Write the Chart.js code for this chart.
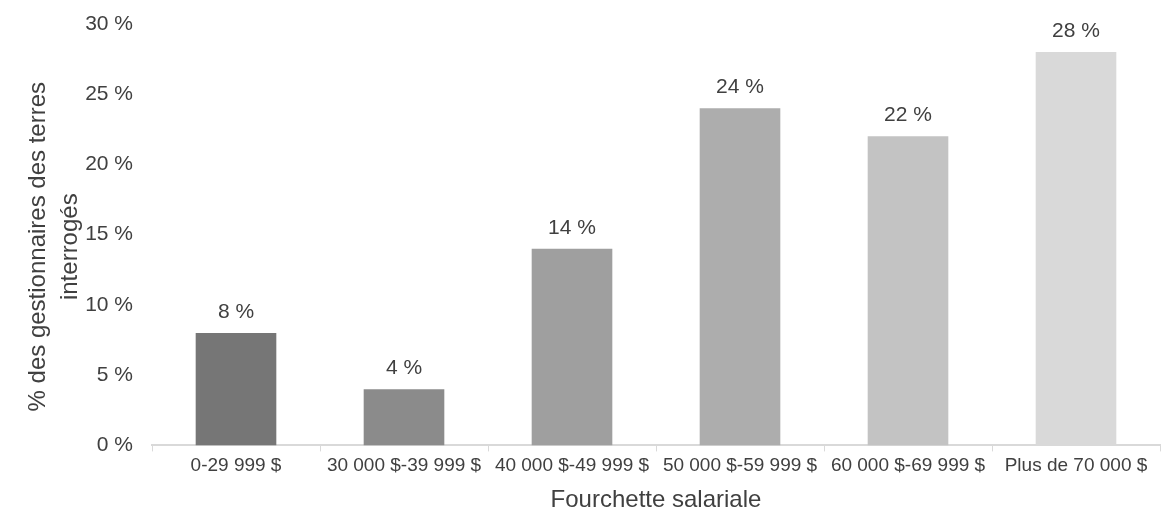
<!DOCTYPE html>
<html><head><meta charset="utf-8">
<script src="https://cdn.jsdelivr.net/npm/chart.js@4"></script>
<style>html,body{margin:0;padding:0;background:#fff}#w{width:1170px;height:524px}</style>
</head><body><div id="w"><canvas id="c"></canvas></div>
<script>
const categories = ["0-29 999 $", "30 000 $-39 999 $", "40 000 $-49 999 $", "50 000 $-59 999 $", "60 000 $-69 999 $", "Plus de 70 000 $"];
const values = [8, 4, 14, 24, 22, 28];
const barColors = ["#767676", "#8b8b8b", "#9f9f9f", "#adadad", "#c3c3c3", "#d9d9d9"];
const yTitle = ["% des gestionnaires des terres", "interrogés"];
const xTitle = "Fourchette salariale";

const FONT = '"Liberation Sans", Arial, sans-serif';

const labelPlugin = {
  id: 'vals',
  afterDatasetsDraw(chart) {
    const ctx = chart.ctx;
    const meta = chart.getDatasetMeta(0);
    ctx.save();
    ctx.font = '21px ' + FONT;
    ctx.fillStyle = '#404040';
    ctx.textAlign = 'center';
    ctx.textBaseline = 'alphabetic';
    meta.data.forEach((el, i) => {
      ctx.fillText(values[i] + ' %', el.x, el.y - 15);
    });
    ctx.restore();
  }
};

const yTitlePlugin = {
  id: 'ytitle',
  afterDraw(chart) {
    const ctx = chart.ctx;
    const ca = chart.chartArea;
    const cy = (ca.top + ca.bottom) / 2 + 12;
    ctx.save();
    ctx.font = '24px ' + FONT;
    ctx.fillStyle = '#404040';
    ctx.textAlign = 'center';
    ctx.textBaseline = 'middle';
    const xs = [38, 70];
    yTitle.forEach((t, i) => {
      ctx.save();
      ctx.translate(xs[i], cy);
      ctx.rotate(-Math.PI / 2);
      ctx.fillText(t, 0, 0);
      ctx.restore();
    });
    ctx.restore();
  }
};

new Chart(document.getElementById('c'), {
  type: 'bar',
  data: { labels: categories, datasets: [{ data: values, backgroundColor: barColors, borderWidth: 0, categoryPercentage: 1, barPercentage: 0.48 }] },
  options: {
    responsive: true, maintainAspectRatio: false, animation: false,
    layout: { padding: { top: 24, right: 10, left: 10, bottom: 9 } },
    plugins: { legend: { display: false }, tooltip: { enabled: false } },
    scales: {
      x: {
        grid: { display: true, drawOnChartArea: false, drawTicks: true, tickLength: 6, color: '#d9d9d9', offset: true },
        border: { display: true, color: '#d9d9d9', width: 2 },
        ticks: { color: '#404040', font: { family: FONT, size: 19 }, padding: 3, maxRotation: 0, autoSkip: false },
        title: { display: true, text: xTitle, color: '#404040', font: { family: FONT, size: 24 }, padding: { top: 6, bottom: 0 } }
      },
      y: {
        min: 0, max: 30,
        grid: { display: false, drawTicks: false },
        border: { display: false },
        ticks: { stepSize: 5, color: '#404040', padding: 19, font: { family: FONT, size: 21 }, callback: v => v + ' %' },
        title: { display: false },
        afterFit: s => { s.width = 142; s.paddingTop = 0; s.paddingBottom = 0; }
      }
    }
  },
  plugins: [labelPlugin, yTitlePlugin]
});
</script></body></html>
